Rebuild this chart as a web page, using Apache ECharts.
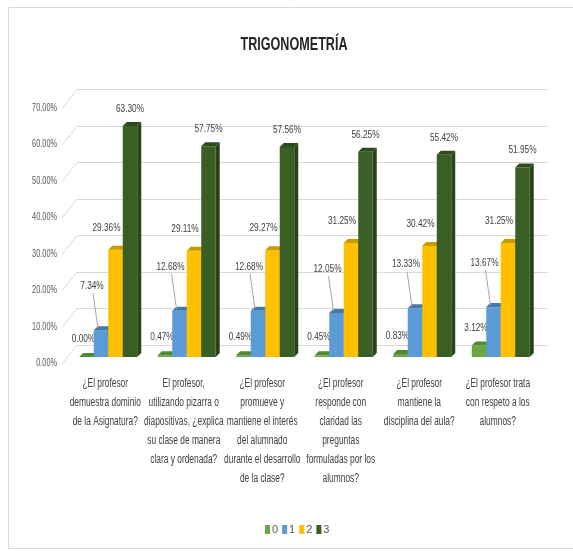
<!DOCTYPE html>
<html>
<head>
<meta charset="utf-8">
<script src="https://cdn.jsdelivr.net/npm/echarts@6/dist/echarts.min.js"></script>
<style>html,body{margin:0;padding:0;background:#fff;}#c{width:573px;height:551px;}</style>
</head>
<body>
<div id="c"></div>
<script>
const categories = [
  '¿El profesor\ndemuestra dominio\nde la Asignatura?',
  'El profesor,\nutilizando pizarra o\ndiapositivas, ¿explica\nsu clase de manera\nclara y ordenada?',
  '¿El profesor\npromueve y\nmantiene el interés\ndel alumnado\ndurante el desarrollo\nde la clase?',
  '¿El profesor\nresponde con\nclaridad las\npreguntas\nformuladas por los\nalumnos?',
  '¿El profesor\nmantiene la\ndisciplina del aula?',
  '¿El profesor trata\ncon respeto a los\nalumnos?'
];
const seriesNames = ['0', '1', '2', '3'];
const values0 = [0.00, 0.47, 0.49, 0.45, 0.83, 3.12];
const values1 = [7.34, 12.68, 12.68, 12.05, 13.33, 13.67];
const values2 = [29.36, 29.11, 29.27, 31.25, 30.42, 31.25];
const values3 = [63.30, 57.75, 57.56, 56.25, 55.42, 51.95];
const yTicks = [0, 10, 20, 30, 40, 50, 60, 70];
const titleText = 'TRIGONOMETRÍA';

const FONT = '"Liberation Sans",Arial,sans-serif';
const faces = [
  {front: '#6BA545', top: '#4F8A31', side: '#467A2B'},
  {front: '#5B9BD5', top: '#4678A8', side: '#3F6D99'},
  {front: '#FFC000', top: '#C99A00', side: '#B88C00'},
  {front: '#3A5F24', top: '#2E4B1D', side: '#2A4419'}
];
// label placement relative to bar (dx from bar center, dy above bar top)
const labelPos = [
  {dx: -3, dy: 18, leader: false},
  {dx: -9, dy: 44, leader: true},
  {dx: -9, dy: 22, leader: false},
  {dx: 0, dy: 17, leader: false}
];
const BW = 14.5, DX = 4, DY = 4;

function barSeries(i, vals) {
  return {
    name: seriesNames[i],
    type: 'custom',
    xAxisIndex: 1, yAxisIndex: 1,
    itemStyle: {color: faces[i].front},
    data: vals.map((v, k) => [k, v]),
    encode: {x: 0, y: 1},
    renderItem: function (params, api) {
      const cat = api.value(0), v = api.value(1);
      const p = api.coord([cat, v]);
      const b = api.coord([cat, 0]);
      const x0 = p[0] - 2 * BW + i * BW;
      const top = p[1], base = b[1];
      const f = faces[i];
      const cx = x0 + BW / 2;
      const lp = labelPos[i];
      const lx = cx + lp.dx, ly = top - lp.dy;
      const children = [
        {type: 'rect', shape: {x: x0, y: top, width: BW, height: base - top}, style: {fill: f.front}},
        {type: 'polygon', shape: {points: [[x0, top], [x0 + DX, top - DY], [x0 + BW + DX, top - DY], [x0 + BW, top]]}, style: {fill: f.top}},
        {type: 'polygon', shape: {points: [[x0 + BW, top], [x0 + BW + DX, top - DY], [x0 + BW + DX, base - DY], [x0 + BW, base]]}, style: {fill: f.side}}
      ];
      if (lp.leader) {
        children.push({type: 'line', shape: {x1: lx + 1, y1: ly + 7, x2: cx - 3, y2: top - 2}, style: {stroke: '#A6A6A6', lineWidth: 1}});
      }
      children.push({
        type: 'text', x: lx, y: ly, scaleX: 0.75,
        style: {text: v.toFixed(2) + '%', fill: '#404040', fontSize: 11, fontFamily: FONT, align: 'center', verticalAlign: 'middle'}
      });
      return {type: 'group', children: children};
    }
  };
}

const chart = echarts.init(document.getElementById('c'), null, {renderer: 'canvas'});
const option = {
  animation: false,
  backgroundColor: '#fff',
  color: faces.map(f => f.front),
  legend: {
    data: seriesNames, left: 260, top: 519,
    itemWidth: 5, itemHeight: 9, itemGap: 4, icon: 'rect',
    textStyle: {fontFamily: FONT, fontSize: 11, color: '#595959', padding: [0, 0, 0, -3]}
  },
  graphic: [
    {
      type: 'rect', silent: true, z: -10,
      shape: {x: 8.5, y: 7.5, width: 600, height: 541},
      style: {fill: 'none', stroke: '#D9D9D9', lineWidth: 1}
    },
    {
      type: 'text', x: 294, y: 45, scaleX: 0.7, silent: true,
      style: {text: titleText, fontFamily: FONT, fontSize: 18, fontWeight: 'bold', fill: '#262626', align: 'center', verticalAlign: 'middle'}
    }
  ],
  grid: [
    {left: 77, right: 25, top: 89.5, bottom: 206},
    {left: 69, right: 33, top: 101.5, bottom: 194}
  ],
  xAxis: [
    {type: 'category', gridIndex: 0, data: categories, show: false},
    {type: 'category', gridIndex: 1, data: categories, show: false}
  ],
  yAxis: [
    {type: 'value', gridIndex: 0, min: 0, max: 70, interval: 10, axisLabel: {show: false}, axisLine: {show: false}, axisTick: {show: false}, splitLine: {lineStyle: {color: '#D9D9D9'}}},
    {type: 'value', gridIndex: 1, min: 0, max: 70, interval: 10, show: false, splitLine: {show: false}}
  ],
  series: [
    barSeries(0, values0),
    barSeries(1, values1),
    barSeries(2, values2),
    barSeries(3, values3),
    {
      type: 'custom', name: 'floor', xAxisIndex: 0, yAxisIndex: 0, silent: true, z: 0,
      data: yTicks.map(t => [0, t]), encode: {x: 0, y: 1},
      renderItem: function (params, api) {
        const cs = params.coordSys;
        const t = api.value(1);
        const p = api.coord([0, t]);
        return {type: 'group', children: [
          {type: 'line', shape: {x1: cs.x - 15, y1: p[1] + 19, x2: cs.x, y2: p[1]}, style: {stroke: '#D9D9D9', lineWidth: 1}},
          {type: 'text', x: cs.x - 20, y: p[1] + 18.5, scaleX: 0.7,
           style: {text: t.toFixed(2) + '%', fontFamily: FONT, fontSize: 10.5, fill: '#595959', align: 'right', verticalAlign: 'middle'}}
        ]};
      }
    },
    {
      type: 'custom', name: 'categoryLabels', xAxisIndex: 1, yAxisIndex: 1, silent: true,
      data: categories.map((c, k) => [k, 0]), encode: {x: 0, y: 1},
      renderItem: function (params, api) {
        const k = api.value(0);
        const p = api.coord([k, 0]);
        return {type: 'text', x: p[0] - 3, y: p[1] + 17, scaleX: 0.67,
          style: {text: categories[k], fontFamily: FONT, fontSize: 12.5, lineHeight: 19, fill: '#404040', align: 'center', verticalAlign: 'top'}};
      }
    }
  ]
};
chart.setOption(option);
</script>
</body>
</html>
